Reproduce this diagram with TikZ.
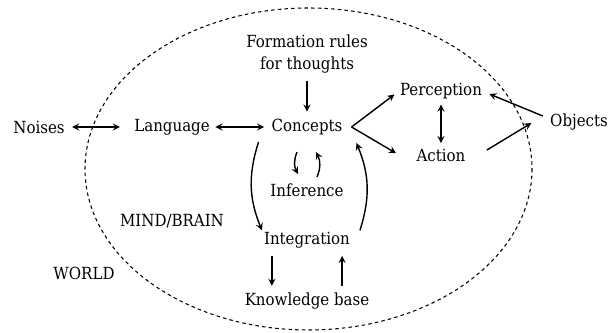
\documentclass[tikz,border=0pt]{standalone}
\usepackage{fontspec}
\setmainfont{DejaVu Serif Condensed}
\usetikzlibrary{positioning}

\begin{document}
\begin{tikzpicture}[x=0.02cm, y=-0.02cm,
    txt/.style={font=\fontsize{9.5}{13}\selectfont, align=center, inner sep=1pt},
    arrow/.style={->, >=stealth, thick},
    both/.style={<->, >=stealth, thick},
    boundary/.style={dash pattern=on 2pt off 1.8pt, semithick}
]
    \useasboundingbox (0,0) rectangle (608,333);
    \draw [boundary] (308.5,169) ellipse [x radius=223.5, y radius=161];

    \node (concepts) [txt] at (307,127) {Concepts};
    \node (formation) [txt, above of=concepts, node distance=1.46cm] {Formation rules\\for thoughts};
    \node (inference) [txt, below of=concepts, node distance=1.27cm] {Inference};
    \node (integration) [txt, below of=inference, node distance=1.0cm] {Integration};
    \node (knowledge) [txt, below of=integration, node distance=1.22cm] {Knowledge base};
    \node (language) [txt, left of=concepts, node distance=2.7cm] {Language};
    \node (noises) [txt, left of=language, node distance=2.66cm] {Noises};
    \node (perception) [txt] at (441,91) {Perception};
    \node (action) [txt] at (441,155) {Action};
    \node (objects) [txt] at (579,122) {Objects};
    \node (mind) [txt] at (172,221) {MIND/BRAIN};
    \node (world) [txt] at (84,273) {WORLD};

    \draw [both, shorten <=3pt, shorten >=7pt] (noises) -- (language);
    \draw [both, shorten <=2pt, shorten >=3pt] (language) -- (concepts);
    \draw [arrow, shorten <=3pt, shorten >=3pt] (formation) -- (concepts);
    \draw [arrow] ([xshift=4pt]concepts.east) -- ([shift={(-2pt,-2pt)}]perception.west);
    \draw [arrow] ([xshift=4pt]concepts.east) -- ([shift={(-10.5pt,1pt)}]action.west);
    \draw [both, shorten <=2pt, shorten >=2pt] (perception) -- (action);
    \draw [arrow] ([shift={(-3pt,3.4pt)}]objects.west) -- ([shift={(3pt,-1.7pt)}]perception.east);
    \draw [arrow] ([shift={(11pt,2.8pt)}]action.east) -- ([shift={(-9.5pt,-0.6pt)}]objects.west);
    \draw [arrow] ([shift={(-6.2pt,-2.8pt)}]concepts.south west) to[bend right=20] (integration.north west);
    \draw [arrow] ([xshift=4.5pt]integration.north east) to[bend right=20] ([shift={(6.8pt,-3.4pt)}]concepts.south east);
    \draw [arrow] ([shift={(-5.7pt,17pt)}]inference.north) to[bend right=25] ([shift={(-5.1pt,4.5pt)}]inference.north);
    \draw [arrow] ([shift={(5.7pt,2.8pt)}]inference.north) to[bend right=25] ([shift={(5.1pt,17pt)}]inference.north);
    \draw [arrow, shorten <=3pt, shorten >=3pt] ([xshift=-20pt]integration.south) -- ([xshift=-20pt]integration.south |- knowledge.north);
    \draw [arrow, shorten <=3pt, shorten >=3pt] ([xshift=20pt]integration.south |- knowledge.north) -- ([xshift=20pt]integration.south);
\end{tikzpicture}
\end{document}
